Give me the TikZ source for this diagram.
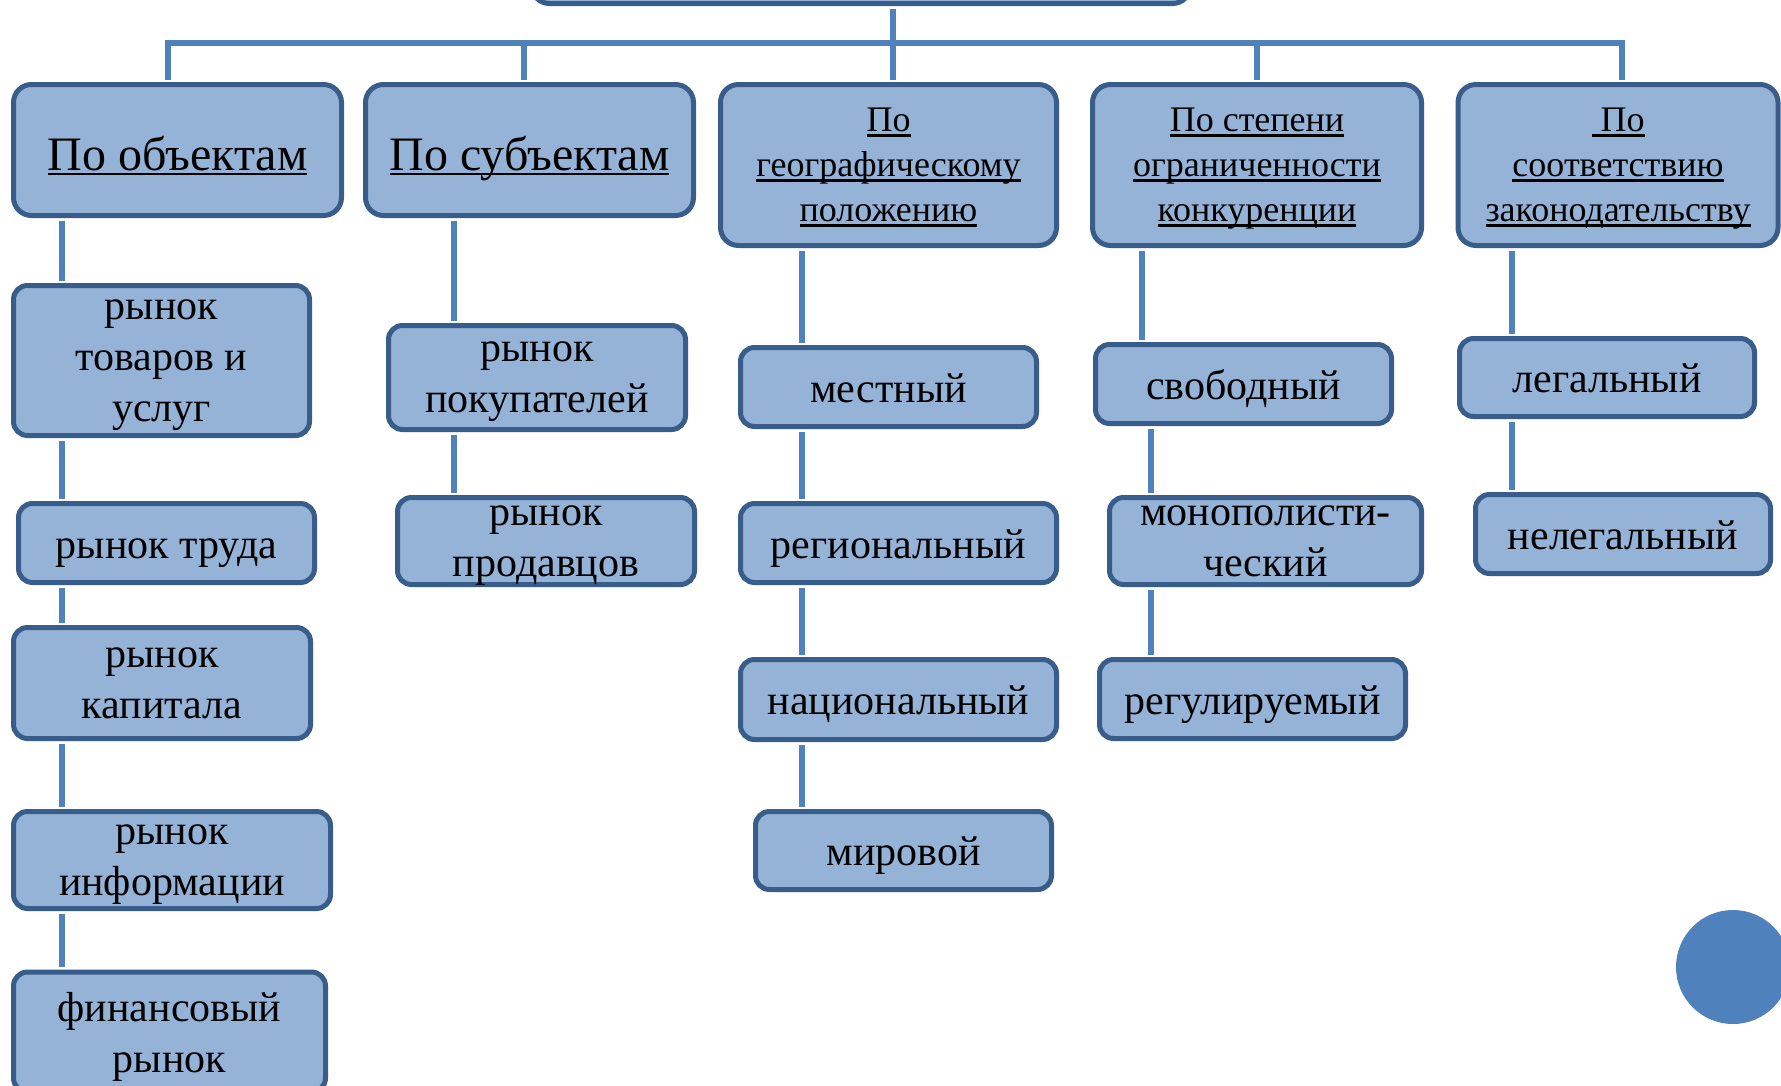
\documentclass[tikz,border=0pt]{standalone}
\usepackage{fontspec}
\setmainfont{Liberation Serif}
\usepackage{tikz}
\usetikzlibrary{calc}

\definecolor{boxfill}{RGB}{149,179,215}
\definecolor{boxline}{RGB}{56,93,138}
\definecolor{linkblue}{RGB}{79,129,189}

% underlined header line
\newcommand{\hdline}[1]{\leavevmode\setbox0=\hbox{#1}\rlap{\copy0}\rule[-5pt]{\wd0}{2.5pt}}

\begin{document}
\begin{tikzpicture}[
    x=1pt, y=-1pt, % picture units = pixels of the slide
    catbox/.style={draw=boxline, fill=boxfill, line width=5pt, rounded corners=18pt,
        align=center, inner sep=0pt, font=\fontsize{36}{45}\selectfont, text depth=0pt},
    bigcat/.style={catbox, font=\fontsize{48}{56}\selectfont, text height=40pt},
    itembox/.style={catbox, rounded corners=14pt, font=\fontsize{42}{51}\selectfont, text depth=-12pt},
    oneline/.style={itembox, text height=30pt, text depth=0pt},
    link/.style={linkblue, line width=6pt, shorten <=2.5pt, shorten >=2.5pt}
]

    % === FRAME ===
    \useasboundingbox (0,0) rectangle (1781,1085);
    \clip (0,0) rectangle (1781,1085);
    \fill[white] (0,0) rectangle (1781,1085);

    % Bar and column x-positions
    \coordinate (d1) at (168,43);
    \coordinate (d2) at (524,43);
    \coordinate (d3) at (893,43);
    \coordinate (d4) at (1257,43);
    \coordinate (d5) at (1622,43);
    \coordinate (c1) at (62,0);
    \coordinate (c2) at (454,0);
    \coordinate (c3) at (802,0);
    \coordinate (c4) at (1142,0);
    \coordinate (c4b) at (1151,0);
    \coordinate (c5) at (1512,0);

    % === 1. ROOT AND CATEGORIES ===
    \node[catbox, minimum width=659, minimum height=55] (root) at (861,-24) {};

    \node[bigcat, minimum width=328, minimum height=131] (hObj) at (177.5,150) {\hdline{По объектам}};
    \node[bigcat, minimum width=328, minimum height=131] (hSubj) at (529.5,150) {\hdline{По субъектам}};
    \node[catbox, minimum width=336, minimum height=161] (hGeo) at (888.5,165)
        {\hdline{По}\\\hdline{географическому}\\\hdline{положению}};
    \node[catbox, minimum width=329, minimum height=161] (hComp) at (1257,165)
        {\hdline{По степени}\\\hdline{ограниченности}\\\hdline{конкуренции}};
    \node[catbox, minimum width=320, minimum height=161] (hLaw) at (1618,165)
        {\hdline{~По}\\\hdline{соответствию}\\\hdline{законодательству}};

    % === 2. MARKET TYPES ===
    % By objects
    \node[itembox, minimum width=296, minimum height=150] (goods) at (161.5,360.5) {рынок\\товаров и\\услуг};
    \node[oneline, minimum width=296, minimum height=79] (labour) at (166.5,543) {рынок труда};
    \node[itembox, minimum width=297, minimum height=111] (capital) at (162,683) {рынок\\капитала};
    \node[itembox, minimum width=317, minimum height=97] (info) at (172,860) {рынок\\информации};
    \node[itembox, minimum width=312, minimum height=120] (finance) at (169.5,1032) {финансовый\\рынок};

    % By subjects
    \node[itembox, minimum width=297, minimum height=104] (buyers) at (537,377.5) {рынок\\покупателей};
    \node[itembox, minimum width=297, minimum height=87] (sellers) at (546,541) {рынок\\продавцов};

    % By geography
    \node[oneline, minimum width=296, minimum height=79] (local) at (888.5,387) {местный};
    \node[oneline, minimum width=316, minimum height=79] (regional) at (898.5,543) {региональный};
    \node[oneline, minimum width=316, minimum height=80] (national) at (898.5,699.5) {национальный};
    \node[oneline, minimum width=296, minimum height=78] (world) at (903.5,850.5) {мировой};

    % By competition
    \node[oneline, minimum width=296, minimum height=79] (free) at (1243.5,384) {свободный};
    \node[itembox, minimum width=312, minimum height=87] (monopoly) at (1265.5,541) {монополисти-\\ческий};
    \node[oneline, minimum width=306, minimum height=79] (regulated) at (1252.5,699) {регулируемый};

    % By legislation
    \node[oneline, minimum width=295, minimum height=78] (legal) at (1607,377.5) {легальный};
    \node[oneline, minimum width=295, minimum height=79] (illegal) at (1623,534) {нелегальный};

    % === 3. CONNECTORS ===
    \draw[link] (root.south -| d3) -- (d3 |- hGeo.north);
    \draw[link] (d1 |- hObj.north) -- (d1) -- (d5) -- (d5 |- hLaw.north);
    \draw[link] (d2) -- (d2 |- hSubj.north);
    \draw[link] (d4) -- (d4 |- hComp.north);

    \draw[link] (hObj.south -| c1) -- (goods.north -| c1);
    \draw[link] (goods.south -| c1) -- (labour.north -| c1);
    \draw[link] (labour.south -| c1) -- (capital.north -| c1);
    \draw[link] (capital.south -| c1) -- (info.north -| c1);
    \draw[link] (info.south -| c1) -- (finance.north -| c1);

    \draw[link] (hSubj.south -| c2) -- (buyers.north -| c2);
    \draw[link] (buyers.south -| c2) -- (sellers.north -| c2);

    \draw[link] (hGeo.south -| c3) -- (local.north -| c3);
    \draw[link] (local.south -| c3) -- (regional.north -| c3);
    \draw[link] (regional.south -| c3) -- (national.north -| c3);
    \draw[link] (national.south -| c3) -- (world.north -| c3);

    \draw[link] (hComp.south -| c4) -- (free.north -| c4);
    \draw[link] (free.south -| c4b) -- (monopoly.north -| c4b);
    \draw[link] (monopoly.south -| c4b) -- (regulated.north -| c4b);

    \draw[link] (hLaw.south -| c5) -- (legal.north -| c5);
    \draw[link] (legal.south -| c5) -- (illegal.north -| c5);

    % Slide decoration
    \fill[linkblue] (1733,967) circle (57);

\end{tikzpicture}
\end{document}
